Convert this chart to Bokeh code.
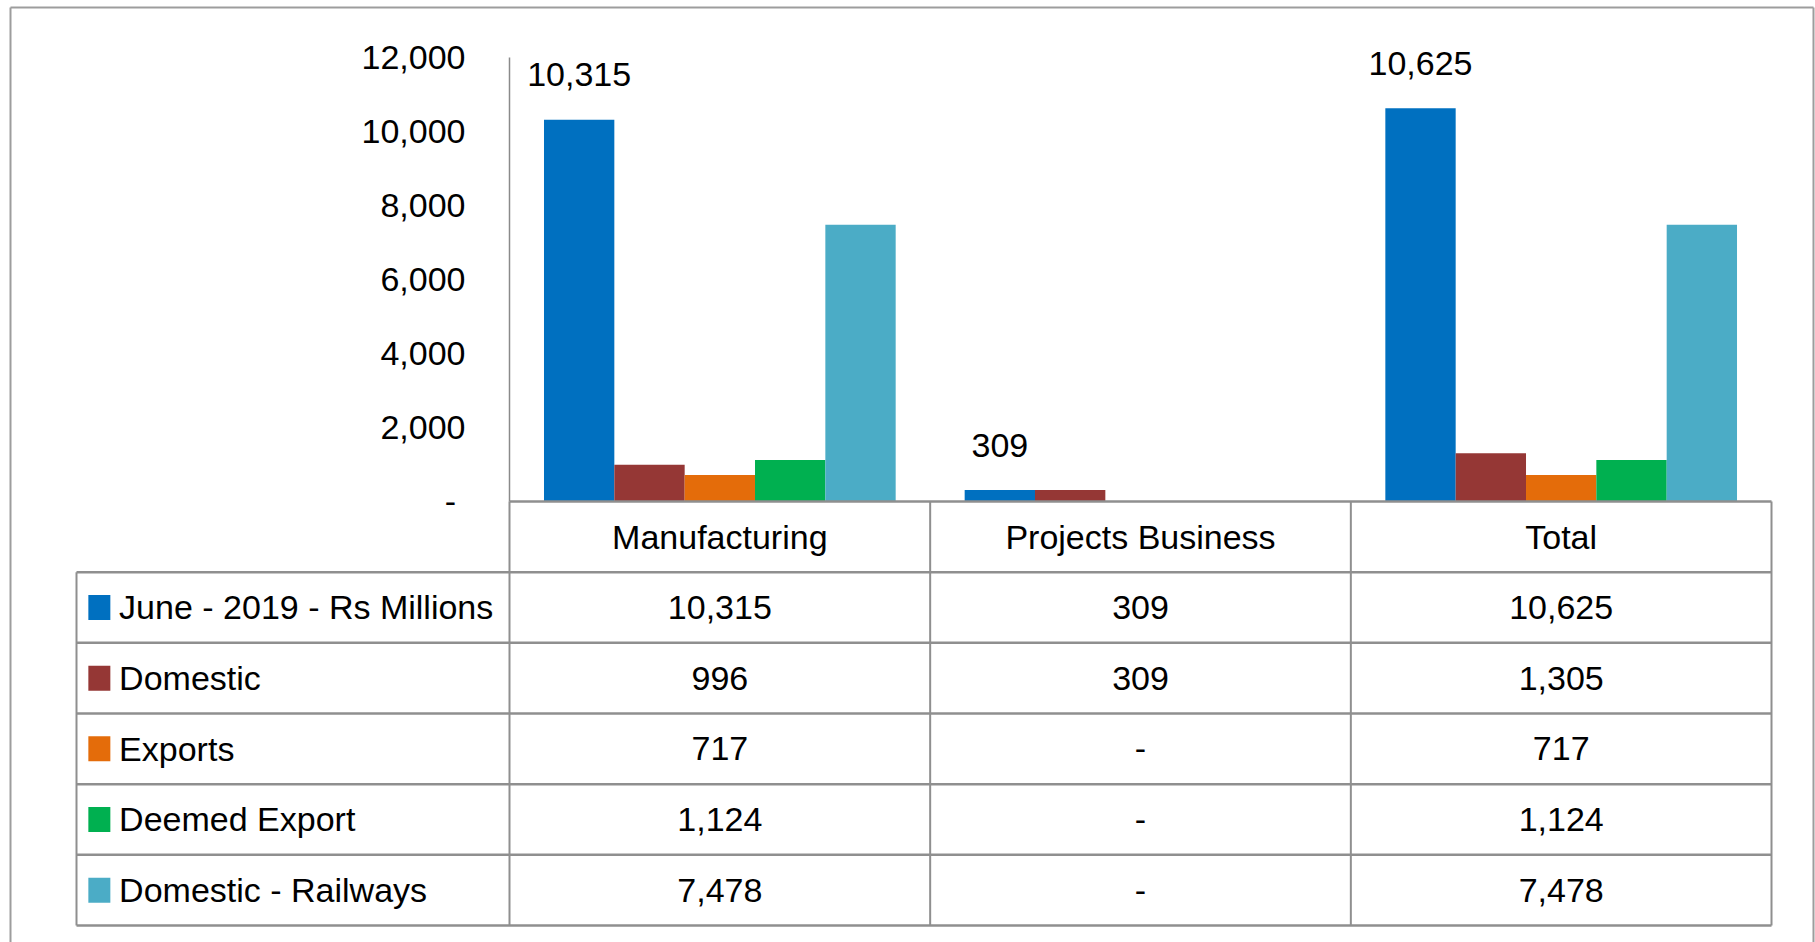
from bokeh.plotting import figure
from bokeh.models import (Range1d, LinearAxis, NumeralTickFormatter, FixedTicker)
from bokeh.core.properties import value
from bokeh.embed import file_html
from bokeh.resources import INLINE

# ---------------- data ----------------
categories = ["Manufacturing", "Projects Business", "Total"]
series_names = ["June - 2019 - Rs Millions", "Domestic", "Exports",
                "Deemed Export", "Domestic - Railways"]
series_colors = ["#0070C0", "#953735", "#E46C0A", "#00B050", "#4BACC6"]
june_2019 = [10315, 309, 10625]
domestic = [996, 309, 1305]
exports = [717, 0, 717]
deemed_export = [1124, 0, 1124]
domestic_railways = [7478, 0, 7478]
y_ticks = [0, 2000, 4000, 6000, 8000, 10000, 12000]

series_values = [june_2019, domestic, exports, deemed_export, domestic_railways]

# ---------------- style / layout constants ----------------
FONT = "Liberation Sans"
FS = "34px"
GRID = "#8f8f8f"
BORDER = "#9d9d9d"
BAR_W = 0.1672

W, H = 1815, 942
X_START, X_END = -1.20998, 3.10457          # category units across the canvas
Y_START, Y_END = -11918.9, 13540.5          # value units (chart part)
T_START, T_END = 6.2406, -7.0896            # row units (table part, downwards)

LEG_X0 = -1.0293     # left edge of legend column
LEG_SW = -0.975      # legend swatch centre
LEG_TX = -0.928      # legend text start
OUT_L, OUT_R, OUT_T = -1.1862, 3.0998, -6.9906   # outer frame of the picture

def fmt(v):
    return "-" if v == 0 else f"{v:,}"

p = figure(x_range=Range1d(X_START, X_END), y_range=Range1d(Y_START, Y_END),
           width=W, height=H, output_backend="svg", toolbar_location=None,
           title=None, x_axis_location=None, y_axis_location=None, min_border=0)
p.extra_y_ranges = {"table": Range1d(T_START, T_END)}
p.outline_line_color = None
p.xgrid.visible = False
p.ygrid.visible = False

n_cat = len(categories)
n_ser = len(series_names)
n_rows = n_ser + 1

# ---------------- bars ----------------
for k in range(n_ser):
    xs = [i + 0.5 + (k - (n_ser - 1) / 2) * BAR_W for i in range(n_cat)]
    p.vbar(x=xs, top=series_values[k], width=BAR_W, bottom=0,
           fill_color=series_colors[k], line_color=None)

# data labels for first series
p.text(x=[i + 0.5 - (n_ser - 1) / 2 * BAR_W for i in range(n_cat)], y=june_2019,
       text=[fmt(v) for v in june_2019], text_align="center",
       text_baseline="middle", y_offset=-45,
       text_font=value(FONT), text_font_size=FS, text_color="#000000")

# ---------------- y axis (fixed at the left edge of the category area) ----------------
ya = LinearAxis(fixed_location=0)
ya.ticker = FixedTicker(ticks=y_ticks)
ya.formatter = NumeralTickFormatter(format="0,0")
ya.major_label_overrides = {0: "-\u00a0"}
ya.bounds = (0, 12000)
ya.axis_line_color = "#8a8a8a"
ya.axis_line_width = 1.5
ya.major_tick_line_color = None
ya.minor_tick_line_color = None
ya.major_tick_out = 0
ya.major_tick_in = 0
ya.major_label_standoff = 44
ya.major_label_text_font = FONT
ya.major_label_text_font_size = FS
ya.major_label_text_color = "#000000"
p.add_layout(ya, "left")

# ---------------- data table ----------------
rows = list(range(n_rows + 1))
p.segment(x0=[0] + [LEG_X0] * n_rows, x1=[n_cat] * (n_rows + 1),
          y0=rows, y1=rows, line_color=GRID, line_width=2.5, y_range_name="table")
vx = list(range(n_cat + 1))
p.segment(x0=vx + [LEG_X0], x1=vx + [LEG_X0],
          y0=[0] * (n_cat + 1) + [1], y1=[n_rows] * (n_cat + 2),
          line_color=GRID, line_width=2, y_range_name="table")

p.text(x=[i + 0.5 for i in range(n_cat)], y=[0.5] * n_cat, text=categories,
       text_align="center", text_baseline="middle", y_range_name="table",
       text_font=value(FONT), text_font_size=FS, text_color="#000000")

ry = [r + 1.5 for r in range(n_ser)]
p.rect(x=[LEG_SW] * n_ser, y=ry, width=22, height=25,
       width_units="screen", height_units="screen",
       fill_color=series_colors, line_color=None, y_range_name="table")
p.text(x=[LEG_TX] * n_ser, y=ry, text=series_names,
       text_align="left", text_baseline="middle", y_range_name="table",
       text_font=value(FONT), text_font_size=FS, text_color="#000000")

cx, cy, ct = [], [], []
for r, vals in enumerate(series_values):
    for i, v in enumerate(vals):
        cx.append(i + 0.5)
        cy.append(r + 1.5)
        ct.append(fmt(v))
p.text(x=cx, y=cy, text=ct, text_align="center", text_baseline="middle",
       y_range_name="table",
       text_font=value(FONT), text_font_size=FS, text_color="#000000")

# ---------------- outer frame of the picture ----------------
p.segment(x0=[OUT_L, OUT_L, OUT_R], x1=[OUT_R, OUT_L, OUT_R],
          y0=[OUT_T, OUT_T, OUT_T], y1=[OUT_T, T_START + 1, T_START + 1],
          line_color=BORDER, line_width=2, y_range_name="table")

open("out.html", "w").write(file_html(p, INLINE))
